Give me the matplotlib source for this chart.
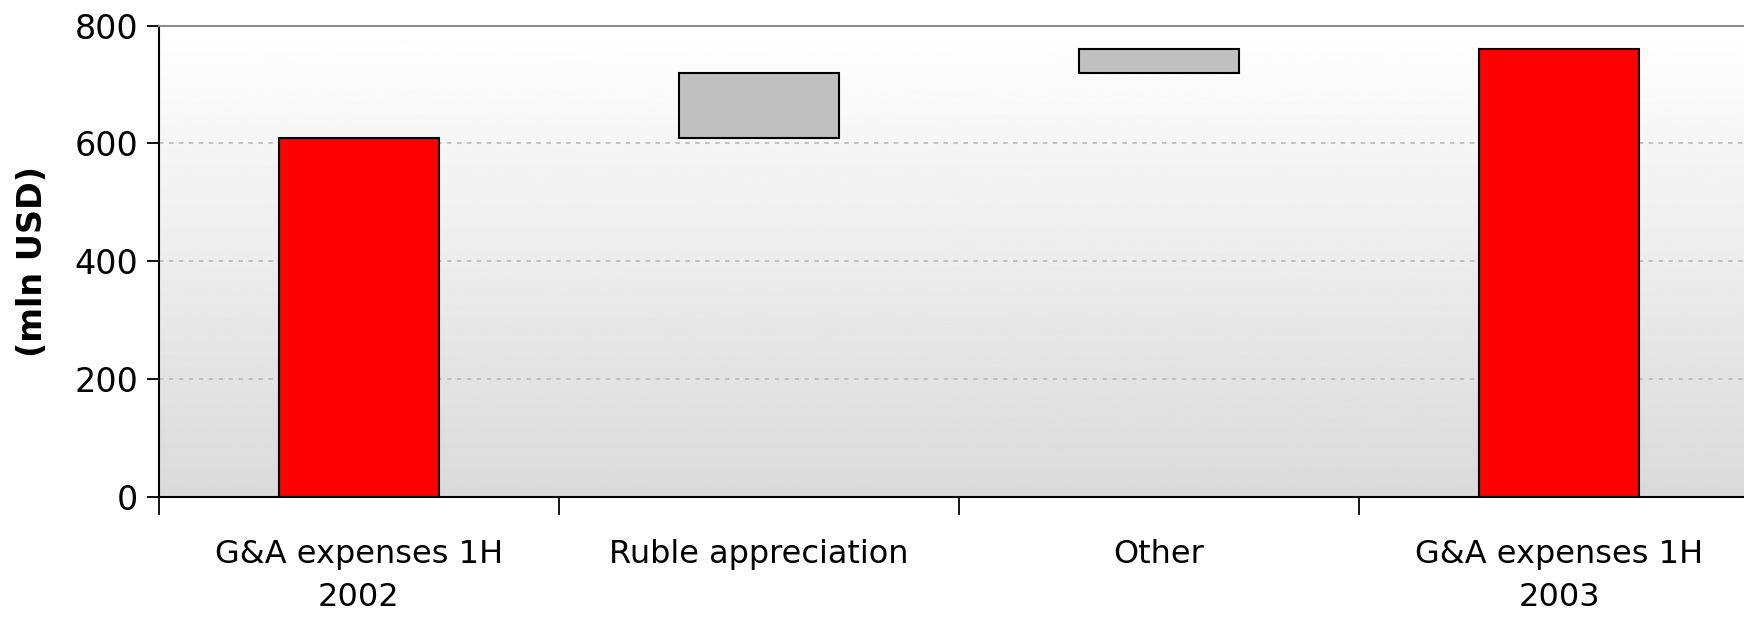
import matplotlib
matplotlib.use("Agg")
import matplotlib.pyplot as plt
import numpy as np

# data
categories = ["G&A expenses 1H\n2002", "Ruble appreciation", "Other", "G&A expenses 1H\n2003"]
start_value = 610
changes = [110, 40]
end_value = 760
y_ticks = [0, 200, 400, 600, 800]

bottoms = [0] + list(start_value + np.cumsum([0] + changes[:-1])) + [0]
heights = [start_value] + changes + [end_value]
colors = ["#FF0000", "#C0C0C0", "#C0C0C0", "#FF0000"]

fig = plt.figure(figsize=(17.44, 6.17), dpi=100)
ax = fig.add_axes([159 / 1744, 1 - 497 / 617, 1 - 159 / 1744, (497 - 25.6) / 617])

# background gradient, white at top to light grey at bottom
grad = np.linspace(0.855, 1.0, 256).reshape(-1, 1)
ax.imshow(grad, cmap="gray", vmin=0, vmax=1, aspect="auto",
          extent=[0, 1, 0, 1], transform=ax.transAxes, origin="lower", zorder=0)

x = np.arange(len(categories))
ax.bar(x, heights, bottom=bottoms, width=0.4, color=colors,
       edgecolor="black", linewidth=1.5, zorder=3)

ax.set_xlim(-0.5, -0.5 + (1744 - 159) / 400)
ax.set_ylim(0, 800)

ax.set_yticks(y_ticks)
ax.tick_params(axis="y", labelsize=24, length=9, width=1.3, pad=6)
for v in y_ticks[1:-1]:
    ax.axhline(v, color="#BDBDBD", linestyle=(0, (2.5, 3)), linewidth=1.3, zorder=1)

ax.set_xticks(x)
ax.set_xticklabels(categories, fontsize=23, linespacing=1.5)
ax.set_xticks([-0.5, 0.5, 1.5, 2.5], minor=True)
ax.tick_params(axis="x", which="major", length=0, pad=30)
ax.tick_params(axis="x", which="minor", length=13, width=1.3)

ax.set_ylabel("(mln USD)", fontsize=24, fontweight="bold", labelpad=18)

ax.spines["right"].set_visible(False)
ax.spines["top"].set_color("#8C8C8C")
ax.spines["top"].set_linewidth(1.5)
ax.spines["left"].set_linewidth(1.5)
ax.spines["bottom"].set_linewidth(1.5)

fig.savefig("out.png", dpi=100)
